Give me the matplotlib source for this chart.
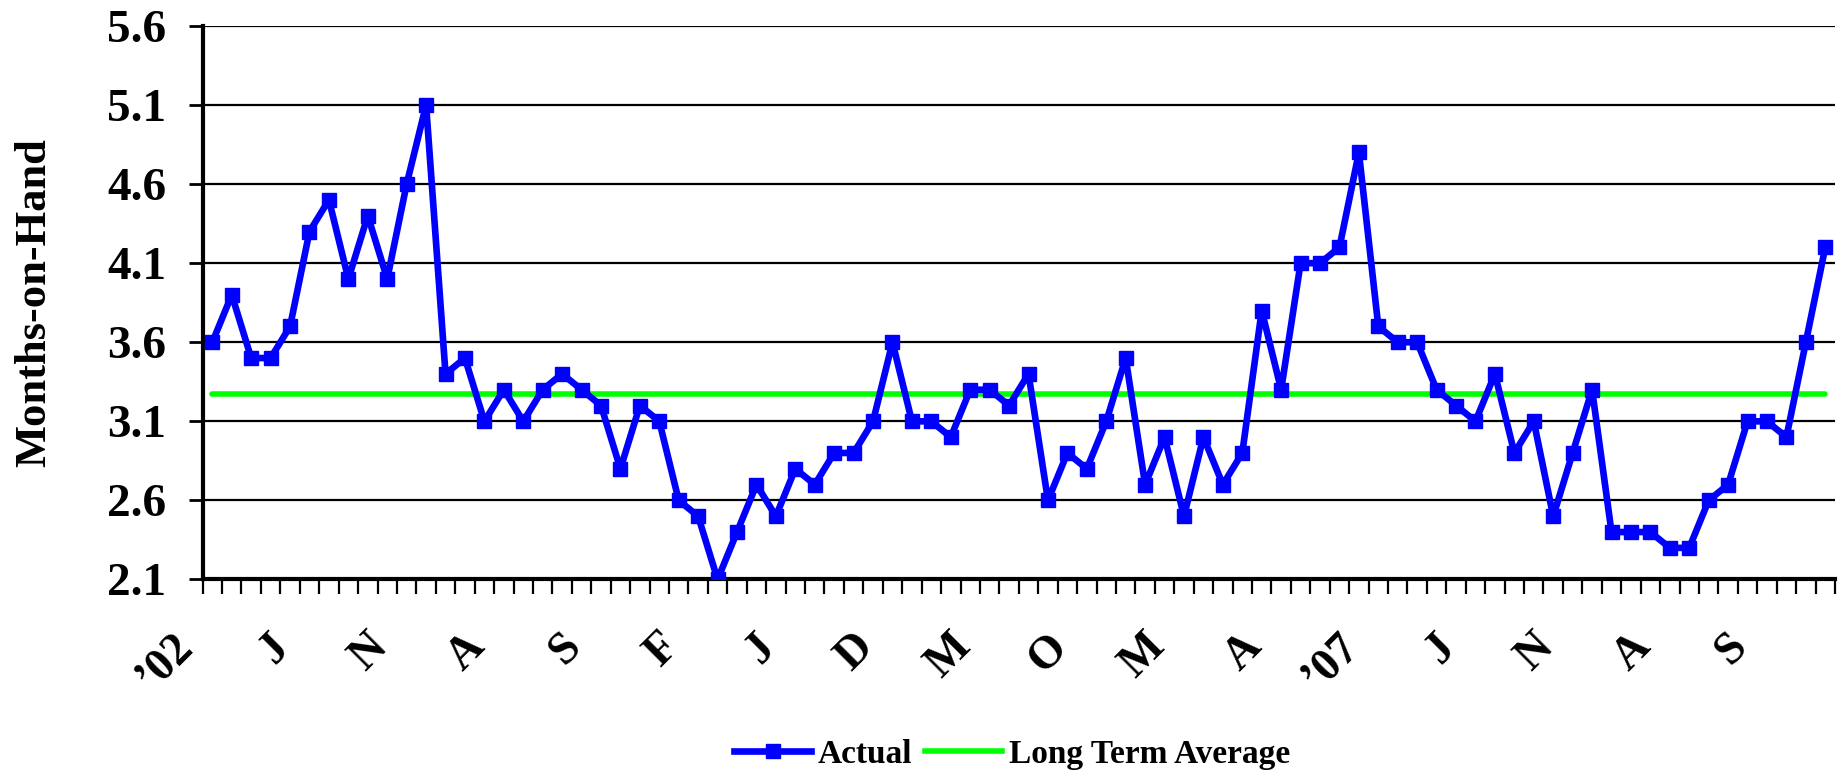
import matplotlib
matplotlib.use("Agg")
import matplotlib.pyplot as plt
import matplotlib.transforms as mtransforms
import numpy as np
from matplotlib.lines import Line2D

# ---- data ----
actual = [3.6, 3.9, 3.5, 3.5, 3.7, 4.3, 4.5, 4.0, 4.4, 4.0, 4.6, 5.1,
          3.4, 3.5, 3.1, 3.3, 3.1, 3.3, 3.4, 3.3, 3.2, 2.8, 3.2, 3.1,
          2.6, 2.5, 2.1, 2.4, 2.7, 2.5, 2.8, 2.7, 2.9, 2.9, 3.1, 3.6,
          3.1, 3.1, 3.0, 3.3, 3.3, 3.2, 3.4, 2.6, 2.9, 2.8, 3.1, 3.5,
          2.7, 3.0, 2.5, 3.0, 2.7, 2.9, 3.8, 3.3, 4.1, 4.1, 4.2, 4.8,
          3.7, 3.6, 3.6, 3.3, 3.2, 3.1, 3.4, 2.9, 3.1, 2.5, 2.9, 3.3,
          2.4, 2.4, 2.4, 2.3, 2.3, 2.6, 2.7, 3.1, 3.1, 3.0, 3.6, 4.2]
long_term_average = 3.27
x_labels = ["\u201902", "J", "N", "A", "S", "F", "J", "D", "M", "O", "M", "A",
            "\u201907", "J", "N", "A", "S"]
label_every = 5
y_ticks = [2.1, 2.6, 3.1, 3.6, 4.1, 4.6, 5.1, 5.6]

FONT = "Liberation Serif"

fig = plt.figure(figsize=(18.47, 7.74), dpi=100)
ax = fig.add_axes([0.1097, 0.2513, 0.9935 - 0.1097, 0.9665 - 0.2513])

n = len(actual)
x = np.arange(n)

ax.hlines(long_term_average, x[0], x[-1], colors="#00FF00", linewidth=4.0,
          zorder=3, capstyle="round")
ax.plot(x, actual, color="#0000FF", linewidth=4.8, marker="s",
        markersize=10, zorder=4)

ax.set_xlim(-0.5, n - 0.5)
ax.set_ylim(y_ticks[0], y_ticks[-1])

# y axis
ax.set_yticks(y_ticks)
ax.set_yticklabels([f"{v:.1f}" for v in y_ticks], fontfamily=FONT,
                   fontweight="bold", fontsize=34)
ax.tick_params(axis="y", direction="out", length=10, width=2.0, pad=16)
ax.yaxis.grid(True, color="black", linewidth=1.6)
ax.set_axisbelow(True)

# x axis: tick marks between categories, labels on every 5th category
ax.set_xticks(np.arange(n + 1) - 0.5)
ax.set_xticklabels([])
ax.tick_params(axis="x", which="major", direction="out", length=11, width=1.6)
ax.set_xticks(x[::label_every], minor=True)
ax.set_xticklabels(x_labels, minor=True, fontfamily=FONT, fontweight="bold",
                   fontsize=33)
ax.tick_params(axis="x", which="minor", length=0, pad=44)
shift = mtransforms.ScaledTranslation(-0.26, 0, fig.dpi_scale_trans)
for lbl in ax.get_xticklabels(minor=True):
    lbl.set_rotation(45)
    lbl.set_ha("right")
    lbl.set_va("center")
    lbl.set_rotation_mode("anchor")
    lbl.set_transform(lbl.get_transform() + shift)

for s in ["top", "right"]:
    ax.spines[s].set_visible(False)
ax.spines["left"].set_linewidth(3.0)
ax.spines["bottom"].set_linewidth(3.0)

ax.set_ylabel("Months-on-Hand", fontfamily=FONT, fontweight="bold",
              fontsize=32, va="center")
ax.yaxis.set_label_coords(-0.103, 0.5)

handles = [Line2D([], [], color="#0000FF", linewidth=4.8, marker="s",
                  markersize=10),
           Line2D([], [], color="#00FF00", linewidth=4.0)]
fig.legend(handles, ["Actual", "Long Term Average"], loc="center",
           bbox_to_anchor=(0.548, 0.025), ncol=2, frameon=False,
           handlelength=2.3, handletextpad=0.2, columnspacing=0.4,
           prop={"family": FONT, "weight": "bold", "size": 24})

fig.savefig("out.png", dpi=100)
